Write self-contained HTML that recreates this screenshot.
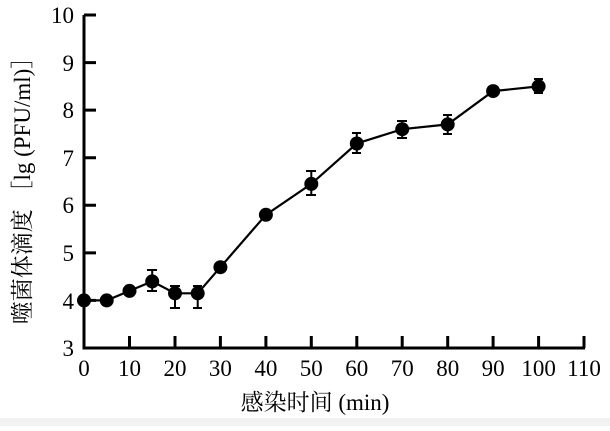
<!DOCTYPE html>
<html><head><meta charset="utf-8"><style>body{margin:0;background:#fff}</style></head><body>
<svg width="610" height="426" xmlns="http://www.w3.org/2000/svg" font-family="'Liberation Serif','Noto Serif CJK SC',serif">
<rect x="0" y="418" width="610" height="8" fill="#f2f2f2"/>
<g stroke="#000" stroke-width="3" fill="none">
<path d="M84 15 V348 H585"/>
<path d="M84 15H96M84 62.6H96M84 110.1H96M84 157.7H96M84 205.3H96M84 252.9H96M84 300.4H96"/>
<path d="M129.5 348V336M175 348V336M220.4 348V336M265.9 348V336M311.3 348V336M356.8 348V336M402.2 348V336M447.7 348V336M493.1 348V336M538.6 348V336M584 348V336"/>
</g>
<g font-size="23" text-anchor="end" fill="#000">
<text x="74" y="23">10</text><text x="74" y="71">9</text><text x="74" y="118">8</text><text x="74" y="166">7</text><text x="74" y="213">6</text><text x="74" y="261">5</text><text x="74" y="309">4</text><text x="74" y="356">3</text>
</g>
<g font-size="23" text-anchor="middle" fill="#000">
<text x="84" y="376">0</text><text x="129.5" y="376">10</text><text x="175" y="376">20</text><text x="220.4" y="376">30</text><text x="265.9" y="376">40</text><text x="311.3" y="376">50</text><text x="356.8" y="376">60</text><text x="402.2" y="376">70</text><text x="447.7" y="376">80</text><text x="493.1" y="376">90</text><text x="538.6" y="376">100</text><text x="584" y="376">110</text>
</g>
<text x="315" y="410" font-size="23" text-anchor="middle">感染时间 (min)</text>
<text transform="translate(30,185) rotate(-90)" font-size="23" text-anchor="middle">噬菌体滴度 ［lg (PFU/ml)］</text>
<g stroke="#000" stroke-width="2">
<path d="M152.2 270V291M147 270H157M147 291H157"/>
<path d="M175 286V308M170 286H180M170 308H180"/>
<path d="M197.7 286V308M193 286H202M193 308H202"/>
<path d="M311.3 171V195M306 171H316M306 195H316"/>
<path d="M356.8 133V153M352 133H361M352 153H361"/>
<path d="M402.2 121V138M397 121H407M397 138H407"/>
<path d="M447.7 115V134M443 115H452M443 134H452"/>
<path d="M538.6 79V93M534 79H543M534 93H543"/>
</g>
<polyline fill="none" stroke="#000" stroke-width="2.2" points="84,300.4 106.7,300.4 129.5,290.9 152.2,281.4 175,293.3 197.7,293.3 220.4,267.2 265.9,214.8 311.3,183.9 356.8,143.5 402.2,129.2 447.7,124.4 493.1,91.1 538.6,86.4"/>
<g fill="#000">
<circle cx="84" cy="300.4" r="7"/><circle cx="106.7" cy="300.4" r="7"/><circle cx="129.5" cy="290.9" r="7"/><circle cx="152.2" cy="281.4" r="7"/><circle cx="175" cy="293.3" r="7"/><circle cx="197.7" cy="293.3" r="7"/><circle cx="220.4" cy="267.2" r="7"/><circle cx="265.9" cy="214.8" r="7"/><circle cx="311.3" cy="183.9" r="7"/><circle cx="356.8" cy="143.5" r="7"/><circle cx="402.2" cy="129.2" r="7"/><circle cx="447.7" cy="124.4" r="7"/><circle cx="493.1" cy="91.1" r="7"/><circle cx="538.6" cy="86.4" r="7"/>
</g>
</svg>
</body></html>
